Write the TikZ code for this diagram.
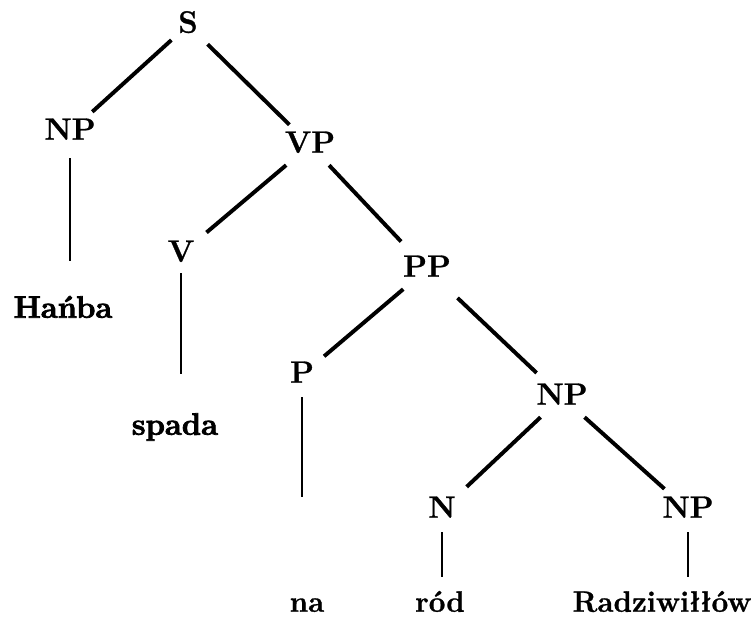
\documentclass[tikz,border=0pt]{standalone}
\usepackage{fontspec}
\usepackage{tikz}
\newfontfamily\heavyfont{Latin Modern Roman}[BoldFeatures={FakeBold=2.5}]
\newfontfamily\demifont{Latin Modern Roman}[BoldFeatures={FakeBold=1}]

\begin{document}
\begin{tikzpicture}[x=0.025cm,y=-0.025cm,
    cat/.style={font=\demifont\bfseries\fontsize{22}{26}\selectfont,text height=15pt,text depth=4pt,inner sep=4pt},
    word/.style={cat,font=\demifont\bfseries\fontsize{21}{25}\selectfont},
    heavy/.style={cat,font=\heavyfont\bfseries\fontsize{22}{26}\selectfont},
    branch/.style={line width=2.8pt,shorten <=1pt,shorten >=1pt},
    leaf/.style={line width=1.3pt}]

    \useasboundingbox (0,0) rectangle (755,618);

    % categories
    \node[cat] (S) at (188,25) {S};
    \node[cat] (NPa) at (70,132) {NP};
    \node[cat] (VP) at (310,145) {VP};
    \node[cat] (V) at (181,254) {V};
    \node[cat] (PP) at (427,269) {PP};
    \node[cat] (P) at (302,375) {P};
    \node[cat] (NPb) at (562,397) {NP};
    \node[cat] (N) at (442,510) {N};
    \node[cat] (NPc) at (688,510) {NP};

    % words
    \node[heavy] (hanba) at (63,310) {Hańba};
    \node[heavy] (spada) at (175,427) {spada};
    \node[word] (na) at (307,604) {na};
    \node[word] (rod) at (440,604) {ród};
    \node[word] (radz) at (662,604) {Radziwiłłów};

    % branches
    \draw[branch] (S) -- (NPa);
    \draw[branch,shorten <=4pt] (S) -- (VP);
    \draw[branch,shorten >=6pt] (VP) -- (V);
    \draw[branch,shorten >=8pt] (VP) -- (PP);
    \draw[branch,shorten >=4pt] (PP) -- (P);
    \draw[branch,shorten <=10pt,shorten >=5pt] (PP) -- (NPb);
    \draw[branch,shorten >=5pt] (NPb) -- (N);
    \draw[branch,shorten >=2pt] (NPb) -- (NPc);

    % leaves
    \draw[leaf,shorten <=5pt,shorten >=35pt] (NPa) -- (NPa |- hanba);
    \draw[leaf,shorten >=38pt] (V) -- (V |- spada);
    \draw[leaf,shorten <=2pt,shorten >=76pt] (P) -- (P |- na);
    \draw[leaf,shorten <=2pt,shorten >=19pt] (N) -- (N |- rod);
    \draw[leaf,shorten <=2pt,shorten >=19pt] (NPc) -- (NPc |- radz);
\end{tikzpicture}
\end{document}
